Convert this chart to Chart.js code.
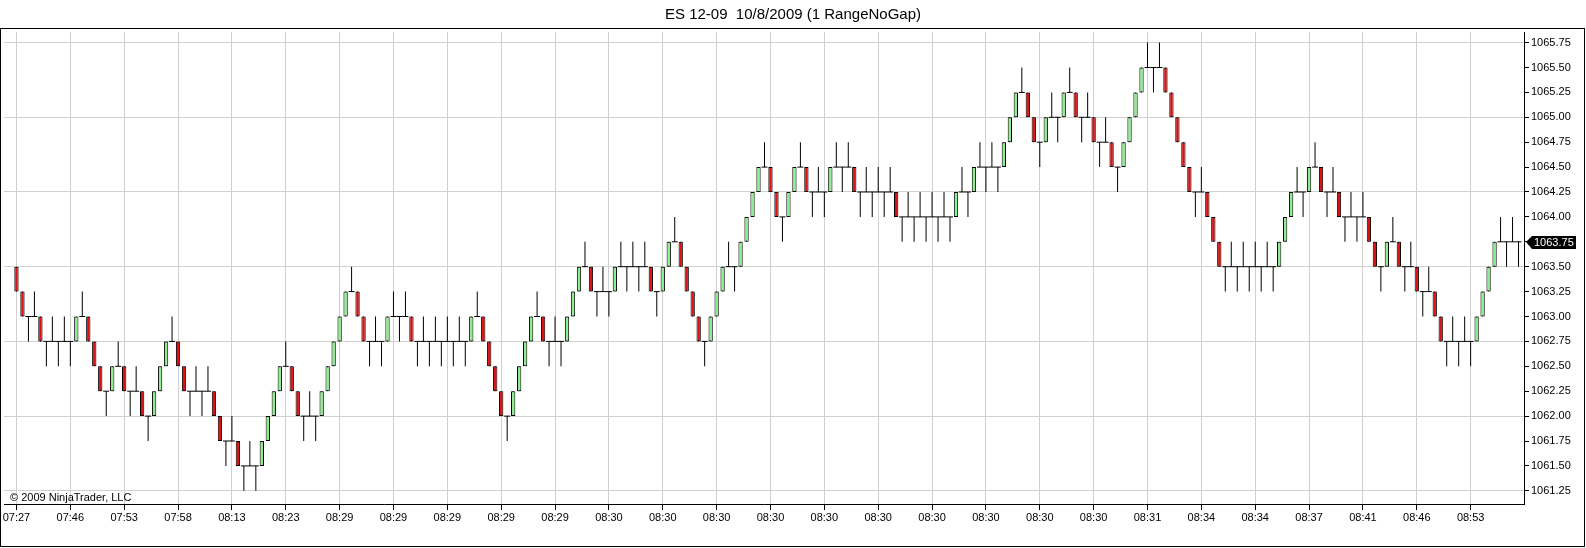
<!DOCTYPE html>
<html>
<head>
<meta charset="utf-8">
<title>ES 12-09 10/8/2009 (1 RangeNoGap)</title>
<script src="https://cdn.jsdelivr.net/npm/chart.js@4.4.1/dist/chart.umd.min.js"></script>
<style>
  html, body { margin: 0; padding: 0; background: #fff; }
  #wrap { width: 1586px; height: 548px; }
</style>
</head>
<body>
<div id="wrap"><canvas id="chartContainer" width="1586" height="548"></canvas></div>
<script>
// x axis labels, one every 9 bars
const timeLabels = ['07:27', '07:46', '07:53', '07:58', '08:13', '08:23', '08:29', '08:29', '08:29', '08:29',
  '08:29', '08:30', '08:30', '08:30', '08:30', '08:30', '08:30', '08:30', '08:30', '08:30',
  '08:30', '08:31', '08:34', '08:34', '08:37', '08:41', '08:46', '08:53'];

// price axis labels
const priceTicks = [1061.25, 1061.5, 1061.75, 1062, 1062.25, 1062.5, 1062.75, 1063, 1063.25, 1063.5,
  1063.75, 1064, 1064.25, 1064.5, 1064.75, 1065, 1065.25, 1065.5, 1065.75];

// 1 tick range bars, 9 bars per line
const opens = [
  1063.5, 1063.25, 1063, 1063, 1063, 1062.75, 1062.75, 1062.75, 1062.75,
  1062.75, 1062.75, 1063, 1063, 1062.75, 1062.5, 1062.25, 1062.25, 1062.5,
  1062.5, 1062.25, 1062.25, 1062.25, 1062, 1062, 1062.25, 1062.5, 1062.75,
  1062.75, 1062.5, 1062.25, 1062.25, 1062.25, 1062.25, 1062.25, 1062, 1061.75,
  1061.75, 1061.75, 1061.5, 1061.5, 1061.5, 1061.5, 1061.75, 1062, 1062.25,
  1062.5, 1062.5, 1062.25, 1062, 1062, 1062, 1062, 1062.25, 1062.5,
  1062.75, 1063, 1063.25, 1063.25, 1063, 1062.75, 1062.75, 1062.75, 1062.75,
  1063, 1063, 1063, 1063, 1062.75, 1062.75, 1062.75, 1062.75, 1062.75,
  1062.75, 1062.75, 1062.75, 1062.75, 1062.75, 1063, 1063, 1062.75, 1062.5,
  1062.25, 1062, 1062, 1062.25, 1062.5, 1062.75, 1063, 1063, 1062.75,
  1062.75, 1062.75, 1062.75, 1063, 1063.25, 1063.5, 1063.5, 1063.25, 1063.25,
  1063.25, 1063.25, 1063.5, 1063.5, 1063.5, 1063.5, 1063.5, 1063.5, 1063.25,
  1063.25, 1063.5, 1063.75, 1063.75, 1063.5, 1063.25, 1063, 1062.75, 1062.75,
  1063, 1063.25, 1063.5, 1063.5, 1063.5, 1063.75, 1064, 1064.25, 1064.5,
  1064.5, 1064.25, 1064, 1064, 1064.25, 1064.5, 1064.5, 1064.25, 1064.25,
  1064.25, 1064.25, 1064.5, 1064.5, 1064.5, 1064.5, 1064.25, 1064.25, 1064.25,
  1064.25, 1064.25, 1064.25, 1064.25, 1064, 1064, 1064, 1064, 1064,
  1064, 1064, 1064, 1064, 1064, 1064.25, 1064.25, 1064.25, 1064.5,
  1064.5, 1064.5, 1064.5, 1064.5, 1064.75, 1065, 1065.25, 1065.25, 1065,
  1064.75, 1064.75, 1065, 1065, 1065, 1065.25, 1065.25, 1065, 1065,
  1065, 1064.75, 1064.75, 1064.75, 1064.5, 1064.5, 1064.75, 1065, 1065.25,
  1065.5, 1065.5, 1065.5, 1065.5, 1065.25, 1065, 1064.75, 1064.5, 1064.25,
  1064.25, 1064.25, 1064, 1063.75, 1063.5, 1063.5, 1063.5, 1063.5, 1063.5,
  1063.5, 1063.5, 1063.5, 1063.5, 1063.5, 1063.75, 1064, 1064.25, 1064.25,
  1064.25, 1064.5, 1064.5, 1064.25, 1064.25, 1064.25, 1064, 1064, 1064,
  1064, 1064, 1063.75, 1063.5, 1063.5, 1063.75, 1063.75, 1063.5, 1063.5,
  1063.5, 1063.25, 1063.25, 1063.25, 1063, 1062.75, 1062.75, 1062.75, 1062.75,
  1062.75, 1062.75, 1063, 1063.25, 1063.5, 1063.75, 1063.75, 1063.75, 1063.75
];
const highs = [
  1063.5, 1063.25, 1063, 1063.25, 1063, 1062.75, 1063, 1062.75, 1063,
  1062.75, 1063, 1063.25, 1063, 1062.75, 1062.5, 1062.25, 1062.5, 1062.75,
  1062.5, 1062.25, 1062.5, 1062.25, 1062, 1062.25, 1062.5, 1062.75, 1063,
  1062.75, 1062.5, 1062.25, 1062.5, 1062.25, 1062.5, 1062.25, 1062, 1061.75,
  1062, 1061.75, 1061.5, 1061.75, 1061.5, 1061.75, 1062, 1062.25, 1062.5,
  1062.75, 1062.5, 1062.25, 1062, 1062.25, 1062, 1062.25, 1062.5, 1062.75,
  1063, 1063.25, 1063.5, 1063.25, 1063, 1062.75, 1063, 1062.75, 1063,
  1063.25, 1063, 1063.25, 1063, 1062.75, 1063, 1062.75, 1063, 1062.75,
  1063, 1062.75, 1063, 1062.75, 1063, 1063.25, 1063, 1062.75, 1062.5,
  1062.25, 1062, 1062.25, 1062.5, 1062.75, 1063, 1063.25, 1063, 1062.75,
  1063, 1062.75, 1063, 1063.25, 1063.5, 1063.75, 1063.5, 1063.25, 1063.5,
  1063.25, 1063.5, 1063.75, 1063.5, 1063.75, 1063.5, 1063.75, 1063.5, 1063.25,
  1063.5, 1063.75, 1064, 1063.75, 1063.5, 1063.25, 1063, 1062.75, 1063,
  1063.25, 1063.5, 1063.75, 1063.5, 1063.75, 1064, 1064.25, 1064.5, 1064.75,
  1064.5, 1064.25, 1064, 1064.25, 1064.5, 1064.75, 1064.5, 1064.25, 1064.5,
  1064.25, 1064.5, 1064.75, 1064.5, 1064.75, 1064.5, 1064.25, 1064.5, 1064.25,
  1064.5, 1064.25, 1064.5, 1064.25, 1064, 1064.25, 1064, 1064.25, 1064,
  1064.25, 1064, 1064.25, 1064, 1064.25, 1064.5, 1064.25, 1064.5, 1064.75,
  1064.5, 1064.75, 1064.5, 1064.75, 1065, 1065.25, 1065.5, 1065.25, 1065,
  1064.75, 1065, 1065.25, 1065, 1065.25, 1065.5, 1065.25, 1065, 1065.25,
  1065, 1064.75, 1065, 1064.75, 1064.5, 1064.75, 1065, 1065.25, 1065.5,
  1065.75, 1065.5, 1065.75, 1065.5, 1065.25, 1065, 1064.75, 1064.5, 1064.25,
  1064.5, 1064.25, 1064, 1063.75, 1063.5, 1063.75, 1063.5, 1063.75, 1063.5,
  1063.75, 1063.5, 1063.75, 1063.5, 1063.75, 1064, 1064.25, 1064.5, 1064.25,
  1064.5, 1064.75, 1064.5, 1064.25, 1064.5, 1064.25, 1064, 1064.25, 1064,
  1064.25, 1064, 1063.75, 1063.5, 1063.75, 1064, 1063.75, 1063.5, 1063.75,
  1063.5, 1063.25, 1063.5, 1063.25, 1063, 1062.75, 1063, 1062.75, 1063,
  1062.75, 1063, 1063.25, 1063.5, 1063.75, 1064, 1063.75, 1064, 1063.75
];
const lows = [
  1063.25, 1063, 1062.75, 1063, 1062.75, 1062.5, 1062.75, 1062.5, 1062.75,
  1062.5, 1062.75, 1063, 1062.75, 1062.5, 1062.25, 1062, 1062.25, 1062.5,
  1062.25, 1062, 1062.25, 1062, 1061.75, 1062, 1062.25, 1062.5, 1062.75,
  1062.5, 1062.25, 1062, 1062.25, 1062, 1062.25, 1062, 1061.75, 1061.5,
  1061.75, 1061.5, 1061.25, 1061.5, 1061.25, 1061.5, 1061.75, 1062, 1062.25,
  1062.5, 1062.25, 1062, 1061.75, 1062, 1061.75, 1062, 1062.25, 1062.5,
  1062.75, 1063, 1063.25, 1063, 1062.75, 1062.5, 1062.75, 1062.5, 1062.75,
  1063, 1062.75, 1063, 1062.75, 1062.5, 1062.75, 1062.5, 1062.75, 1062.5,
  1062.75, 1062.5, 1062.75, 1062.5, 1062.75, 1063, 1062.75, 1062.5, 1062.25,
  1062, 1061.75, 1062, 1062.25, 1062.5, 1062.75, 1063, 1062.75, 1062.5,
  1062.75, 1062.5, 1062.75, 1063, 1063.25, 1063.5, 1063.25, 1063, 1063.25,
  1063, 1063.25, 1063.5, 1063.25, 1063.5, 1063.25, 1063.5, 1063.25, 1063,
  1063.25, 1063.5, 1063.75, 1063.5, 1063.25, 1063, 1062.75, 1062.5, 1062.75,
  1063, 1063.25, 1063.5, 1063.25, 1063.5, 1063.75, 1064, 1064.25, 1064.5,
  1064.25, 1064, 1063.75, 1064, 1064.25, 1064.5, 1064.25, 1064, 1064.25,
  1064, 1064.25, 1064.5, 1064.25, 1064.5, 1064.25, 1064, 1064.25, 1064,
  1064.25, 1064, 1064.25, 1064, 1063.75, 1064, 1063.75, 1064, 1063.75,
  1064, 1063.75, 1064, 1063.75, 1064, 1064.25, 1064, 1064.25, 1064.5,
  1064.25, 1064.5, 1064.25, 1064.5, 1064.75, 1065, 1065.25, 1065, 1064.75,
  1064.5, 1064.75, 1065, 1064.75, 1065, 1065.25, 1065, 1064.75, 1065,
  1064.75, 1064.5, 1064.75, 1064.5, 1064.25, 1064.5, 1064.75, 1065, 1065.25,
  1065.5, 1065.25, 1065.5, 1065.25, 1065, 1064.75, 1064.5, 1064.25, 1064,
  1064.25, 1064, 1063.75, 1063.5, 1063.25, 1063.5, 1063.25, 1063.5, 1063.25,
  1063.5, 1063.25, 1063.5, 1063.25, 1063.5, 1063.75, 1064, 1064.25, 1064,
  1064.25, 1064.5, 1064.25, 1064, 1064.25, 1064, 1063.75, 1064, 1063.75,
  1064, 1063.75, 1063.5, 1063.25, 1063.5, 1063.75, 1063.5, 1063.25, 1063.5,
  1063.25, 1063, 1063.25, 1063, 1062.75, 1062.5, 1062.75, 1062.5, 1062.75,
  1062.5, 1062.75, 1063, 1063.25, 1063.5, 1063.75, 1063.5, 1063.75, 1063.5
];
const closes = [
  1063.25, 1063, 1063, 1063, 1062.75, 1062.75, 1062.75, 1062.75, 1062.75,
  1062.75, 1063, 1063, 1062.75, 1062.5, 1062.25, 1062.25, 1062.5, 1062.5,
  1062.25, 1062.25, 1062.25, 1062, 1062, 1062.25, 1062.5, 1062.75, 1062.75,
  1062.5, 1062.25, 1062.25, 1062.25, 1062.25, 1062.25, 1062, 1061.75, 1061.75,
  1061.75, 1061.5, 1061.5, 1061.5, 1061.5, 1061.75, 1062, 1062.25, 1062.5,
  1062.5, 1062.25, 1062, 1062, 1062, 1062, 1062.25, 1062.5, 1062.75,
  1063, 1063.25, 1063.25, 1063, 1062.75, 1062.75, 1062.75, 1062.75, 1063,
  1063, 1063, 1063, 1062.75, 1062.75, 1062.75, 1062.75, 1062.75, 1062.75,
  1062.75, 1062.75, 1062.75, 1062.75, 1063, 1063, 1062.75, 1062.5, 1062.25,
  1062, 1062, 1062.25, 1062.5, 1062.75, 1063, 1063, 1062.75, 1062.75,
  1062.75, 1062.75, 1063, 1063.25, 1063.5, 1063.5, 1063.25, 1063.25, 1063.25,
  1063.25, 1063.5, 1063.5, 1063.5, 1063.5, 1063.5, 1063.5, 1063.25, 1063.25,
  1063.5, 1063.75, 1063.75, 1063.5, 1063.25, 1063, 1062.75, 1062.75, 1063,
  1063.25, 1063.5, 1063.5, 1063.5, 1063.75, 1064, 1064.25, 1064.5, 1064.5,
  1064.25, 1064, 1064, 1064.25, 1064.5, 1064.5, 1064.25, 1064.25, 1064.25,
  1064.25, 1064.5, 1064.5, 1064.5, 1064.5, 1064.25, 1064.25, 1064.25, 1064.25,
  1064.25, 1064.25, 1064.25, 1064, 1064, 1064, 1064, 1064, 1064,
  1064, 1064, 1064, 1064, 1064.25, 1064.25, 1064.25, 1064.5, 1064.5,
  1064.5, 1064.5, 1064.5, 1064.75, 1065, 1065.25, 1065.25, 1065, 1064.75,
  1064.75, 1065, 1065, 1065, 1065.25, 1065.25, 1065, 1065, 1065,
  1064.75, 1064.75, 1064.75, 1064.5, 1064.5, 1064.75, 1065, 1065.25, 1065.5,
  1065.5, 1065.5, 1065.5, 1065.25, 1065, 1064.75, 1064.5, 1064.25, 1064.25,
  1064.25, 1064, 1063.75, 1063.5, 1063.5, 1063.5, 1063.5, 1063.5, 1063.5,
  1063.5, 1063.5, 1063.5, 1063.5, 1063.75, 1064, 1064.25, 1064.25, 1064.25,
  1064.5, 1064.5, 1064.25, 1064.25, 1064.25, 1064, 1064, 1064, 1064,
  1064, 1063.75, 1063.5, 1063.5, 1063.75, 1063.75, 1063.5, 1063.5, 1063.5,
  1063.25, 1063.25, 1063.25, 1063, 1062.75, 1062.75, 1062.75, 1062.75, 1062.75,
  1062.75, 1063, 1063.25, 1063.5, 1063.75, 1063.75, 1063.75, 1063.75, 1063.75
];

const barsPerLabel = 9;
const upColor = '#90ee90';
const downColor = '#dd1111';

Chart.defaults.font.family = '"Liberation Sans", Arial, sans-serif';
Chart.defaults.color = '#000';

// wick for every bar, body only where open != close, tick mark where open == close
const wickData = highs.map((h, i) => ({ x: i, y: [lows[i], h] }));
const bodyData = [];
const dojiData = [];
opens.forEach((o, i) => {
  if (o === closes[i]) {
    dojiData.push({ x: i, y: o });
  } else {
    bodyData.push({ x: i, y: [o, closes[i]] });
  }
});

// frame, copyright and last price marker
const ninjaDecor = {
  id: 'ninjaDecor',
  afterDraw(chart) {
    const ctx = chart.ctx;
    const area = chart.chartArea;
    const yScale = chart.scales.y;
    ctx.save();

    ctx.strokeStyle = '#000';
    ctx.lineWidth = 1;
    ctx.strokeRect(0.5, 28.5, 1584, 518);

    ctx.fillStyle = '#000';
    ctx.font = '11px "Liberation Sans", Arial, sans-serif';
    ctx.textBaseline = 'middle';
    ctx.textAlign = 'left';
    ctx.fillText('\u00a9 2009 NinjaTrader, LLC', area.left + 6, area.bottom - 6);

    const last = closes[closes.length - 1];
    const y = Math.round(yScale.getPixelForValue(last));
    const x0 = yScale.left + 2;
    ctx.beginPath();
    ctx.moveTo(x0, y);
    ctx.lineTo(x0 + 6, y - 6);
    ctx.lineTo(x0 + 50, y - 6);
    ctx.lineTo(x0 + 50, y + 7);
    ctx.lineTo(x0 + 6, y + 7);
    ctx.closePath();
    ctx.fill();
    ctx.fillStyle = '#fff';
    ctx.fillText(last.toFixed(2), x0 + 8, y + 0.5);
    ctx.restore();
  }
};

let chartContainer = document.getElementById('chartContainer').getContext('2d');
let chart = new Chart(chartContainer, {
  type: 'bar',
  data: {
    datasets: [{
      label: 'doji',
      type: 'line',
      data: dojiData,
      showLine: false,
      pointStyle: 'line',
      pointRadius: 3,
      pointHoverRadius: 3,
      pointBorderWidth: 1,
      pointBorderColor: '#000',
      pointBackgroundColor: '#000',
      order: 0
    }, {
      label: 'body',
      data: bodyData,
      grouped: false,
      barPercentage: 0.9,
      maxBarThickness: 5,
      borderWidth: 1,
      borderColor: '#000',
      borderSkipped: false,
      inflateAmount: 0,
      backgroundColor: c => (c.raw && c.raw.y[1] > c.raw.y[0] ? upColor : downColor),
      order: 1
    }, {
      label: 'wick',
      data: wickData,
      grouped: false,
      barPercentage: 0.5,
      maxBarThickness: 1,
      borderWidth: 0,
      inflateAmount: 0,
      backgroundColor: '#000',
      order: 2
    }]
  },
  options: {
    responsive: false,
    devicePixelRatio: 1,
    animation: false,
    events: [],
    layout: { padding: 0 },
    plugins: {
      legend: { display: false },
      tooltip: { enabled: false },
      title: {
        display: true,
        text: 'ES 12-09  10/8/2009 (1 RangeNoGap)',
        color: '#000',
        font: { size: 15, weight: 'normal' },
        padding: { top: 6, bottom: 8 }
      }
    },
    scales: {
      x: {
        type: 'linear',
        min: -2 - 1 / 12,
        max: 252 - 1 / 12,
        offset: false,
        grid: { color: '#d0d0d0', offset: false, tickLength: 6, tickColor: '#000' },
        border: { color: '#000' },
        afterBuildTicks: s => { s.ticks = timeLabels.map((_, k) => ({ value: k * barsPerLabel })); },
        afterFit: s => { s.height = 44; s.paddingLeft = 0; s.paddingRight = 0; },
        ticks: {
          autoSkip: false,
          maxRotation: 0,
          padding: 1,
          color: '#000',
          font: { size: 11 },
          callback: v => timeLabels[Math.round(v / barsPerLabel)]
        }
      },
      y: {
        type: 'linear',
        position: 'right',
        min: 1061.1175,
        max: 1065.8564,
        grid: {
          color: c => (c.index % 3 === 0 ? '#d0d0d0' : 'rgba(0,0,0,0)'),
          tickLength: 5,
          tickColor: '#000'
        },
        border: { color: '#000' },
        afterBuildTicks: s => { s.ticks = priceTicks.map(v => ({ value: v })); },
        afterFit: s => { s.width = 62; },
        ticks: {
          padding: 2,
          color: '#000',
          font: { size: 11 },
          callback: v => v.toFixed(2)
        }
      }
    }
  },
  plugins: [ninjaDecor]
});
</script>
</body>
</html>
